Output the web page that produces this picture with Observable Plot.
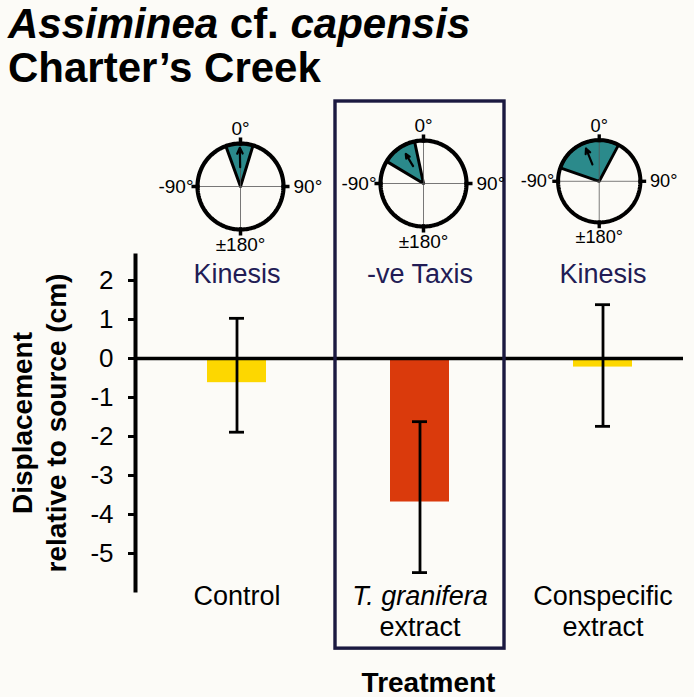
<!DOCTYPE html>
<html><head><meta charset="utf-8">
<script src="https://cdn.jsdelivr.net/npm/d3@7"></script>
<script src="https://cdn.jsdelivr.net/npm/@observablehq/plot@0.6"></script>
<style>
body{margin:0;background:#fcfbf7;}
#wrap{position:relative;width:694px;height:697px;overflow:hidden;font-family:"Liberation Sans",Arial,sans-serif;}
.title{position:absolute;left:8px;font-weight:bold;font-size:42px;line-height:47px;color:#000;z-index:3;white-space:nowrap;}
#t1{top:0px;} #t2{top:44px;}
.rose{position:absolute;z-index:2;}
#main{position:absolute;left:0;top:0;z-index:1;}
</style></head><body>
<div id="wrap"><div class="title" id="t1"><i>Assiminea</i> cf. <i>capensis</i></div><div class="title" id="t2">Charter’s Creek</div><div id="main"></div></div>
<script>
// ---- data ----
const categories = ["Control", "T. granifera extract", "Conspecific extract"];
const labelLine1 = ["Control", "T. granifera", "Conspecific"];
const labelLine2 = ["", "extract", "extract"];
const labelItalic = [false, true, false];
const means = [-0.62, -3.68, -0.22];
const errHigh = [1.03, -1.62, 1.38];
const errLow = [-1.89, -5.49, -1.74];
const responses = ["Kinesis", "-ve Taxis", "Kinesis"];
const highlighted = ["T. granifera extract"];
const yTicks = [2, 1, 0, -1, -2, -3, -4, -5];
// circular plots: sector (degrees, 0 = up towards source) and mean vector
const wedgeFrom = [-20, -59, -71];
const wedgeTo = [17, -12, 28];
const meanAngle = [-1, -31, -22];
const arrowStart = [0.45, 0.47, 0.44];
const arrowEnd = [0.9, 0.8, 0.86];
const roseLabels = ["0°", "90°", "±180°", "-90°"];

// ---- styles ----
const FONT = '"Liberation Sans", Arial, sans-serif';
const barColors = ["#fdd700", "#da3a0c", "#fdd700"];
const navy = "#221c55";
const teal = "#2b8a8b";

const rows = categories.map((c, i) => ({
  cat: c, mean: means[i], lo: errLow[i], hi: errHigh[i], resp: responses[i],
  l1: labelLine1[i], l2: labelLine2[i], italic: labelItalic[i]
}));

const main = Plot.plot({
  width: 694, height: 697,
  marginLeft: 135, marginRight: 11, marginTop: 255, marginBottom: 107,
  style: {background: "transparent", fontFamily: FONT, color: "#000", overflow: "visible"},
  x: {type: "band", domain: categories, range: [144, 694], padding: 0, axis: null},
  y: {domain: [-5.949, 2.641], axis: null},
  color: {domain: categories, range: barColors},
  marks: [
    Plot.barY(rows, {x: "cat", y: "mean", fill: "cat", insetLeft: 62, insetRight: 62}),
    Plot.ruleY([0], {strokeWidth: 3.5, stroke: "#000"}),
    Plot.ruleX(rows, {x: "cat", y1: "lo", y2: "hi", strokeWidth: 2.8, stroke: "#000"}),
    Plot.tickY(rows, {x: "cat", y: "lo", strokeWidth: 2.8, insetLeft: 84, insetRight: 84, stroke: "#000"}),
    Plot.tickY(rows, {x: "cat", y: "hi", strokeWidth: 2.8, insetLeft: 84, insetRight: 84, stroke: "#000"}),
    Plot.frame({anchor: "left", strokeWidth: 4, stroke: "#000"}),
    Plot.axisY({ticks: yTicks, tickSize: 7, tickPadding: 15, tickFormat: d => String(d), fontSize: 26, strokeWidth: 3, label: null, stroke: "#000", fill: "#000"}),
    Plot.barY(rows.filter(d => highlighted.includes(d.cat)), {x: "cat", y1: -7.44, y2: 6.59, fill: "none", stroke: "#1b1940", strokeWidth: 3.4, insetLeft: 7, insetRight: 7}),
    Plot.text(rows, {x: "cat", text: "resp", frameAnchor: "top", lineAnchor: "top", dy: 8, fontSize: 27, fill: navy}),
    Plot.text(rows.filter(d => !d.italic), {x: "cat", text: "l1", frameAnchor: "bottom", lineAnchor: "top", dy: -5, fontSize: 27, fill: "#000"}),
    Plot.text(rows.filter(d => d.italic), {x: "cat", text: "l1", frameAnchor: "bottom", lineAnchor: "top", dy: -5, fontSize: 27, fontStyle: "italic", fill: "#000"}),
    Plot.text(rows, {x: "cat", text: "l2", frameAnchor: "bottom", lineAnchor: "top", dy: 26, fontSize: 27, fill: "#000"}),
    Plot.text(["Displacement"], {text: d => d, frameAnchor: "left", rotate: -90, textAnchor: "middle", lineAnchor: "bottom", dx: -104, fontSize: 28, fontWeight: "bold", fill: "#000"}),
    Plot.text(["relative to source (cm)"], {text: d => d, frameAnchor: "left", rotate: -90, textAnchor: "middle", lineAnchor: "bottom", dx: -70, fontSize: 28, fontWeight: "bold", fill: "#000"}),
    Plot.text(["Treatment"], {text: d => d, frameAnchor: "bottom", lineAnchor: "bottom", dx: 19, dy: 101, fontSize: 28, fontWeight: "bold", fill: "#000"})
  ]
});
document.getElementById("main").appendChild(main);

// ---- circular (rose) diagrams ----
const R = 43, RW = 200, RH = 150;
const roseCenterTop = [186, 183, 184];
const roseShift = [3, 3, 0];
const rad = a => a * Math.PI / 180;
const pt = (a, r) => ({x: r * Math.sin(rad(a)), y: r * Math.cos(rad(a))});
const xs = main.scale("x");

categories.forEach((c, i) => {
  const arc = d3.range(wedgeFrom[i], wedgeTo[i], 1).map(a => pt(a, 1));
  const wedge = [{x: 0, y: 0}, ...arc, pt(wedgeTo[i], 1), {x: 0, y: 0}];
  const ring = d3.range(0, 361, 2).map(a => pt(a, 1));
  const cardinals = [0, 90, 180, -90];
  const labelPos = [
    {t: roseLabels[0], x: 0, y: 1.2, ta: "middle", la: "bottom"},
    {t: roseLabels[1], x: 53 / R, y: 0, ta: "start", la: "middle"},
    {t: roseLabels[2], x: 0, y: -1.5, ta: "middle", la: "bottom"},
    {t: roseLabels[3], x: -47 / R, y: 0, ta: "end", la: "middle"}
  ];
  const p = Plot.plot({
    width: RW, height: RH, margin: 0,
    x: {domain: [-RW / 2 / R, RW / 2 / R], axis: null},
    y: {domain: [-RH / 2 / R, RH / 2 / R], axis: null},
    style: {background: "transparent", overflow: "visible", fontFamily: FONT, color: "#000"},
    marks: [
      Plot.line(wedge, {x: "x", y: "y", fill: teal, stroke: "#000", strokeWidth: 3, strokeLinejoin: "miter"}),
      Plot.ruleX([0], {y1: -1, y2: 1, stroke: "#555", strokeWidth: 0.8}),
      Plot.ruleY([0], {x1: -1, x2: 1, stroke: "#555", strokeWidth: 0.8}),
      Plot.line(ring, {x: "x", y: "y", stroke: "#000", strokeWidth: 4.2}),
      Plot.link(cardinals, {
        x1: a => pt(a, 0.95).x, y1: a => pt(a, 0.95).y,
        x2: a => pt(a, 1.14).x, y2: a => pt(a, 1.14).y,
        stroke: "#000", strokeWidth: 3.5, strokeLinecap: "butt"
      }),
      Plot.arrow([i], {
        x1: j => pt(meanAngle[j], arrowStart[j]).x, y1: j => pt(meanAngle[j], arrowStart[j]).y,
        x2: j => pt(meanAngle[j], arrowEnd[j]).x, y2: j => pt(meanAngle[j], arrowEnd[j]).y,
        stroke: "#000", strokeWidth: 2.2, headLength: 7, headAngle: 50
      }),
      ...labelPos.map(l => Plot.text([l], {x: "x", y: "y", text: "t", textAnchor: l.ta, lineAnchor: l.la, fontSize: 19, fill: "#000"}))
    ]
  });
  const div = document.createElement("div");
  div.className = "rose";
  const cx = xs.apply(c) + xs.bandwidth / 2 + roseShift[i];
  div.style.left = (cx - RW / 2) + "px";
  div.style.top = (roseCenterTop[i] - RH / 2) + "px";
  div.appendChild(p);
  document.getElementById("wrap").appendChild(div);
});
</script>
</body></html>
